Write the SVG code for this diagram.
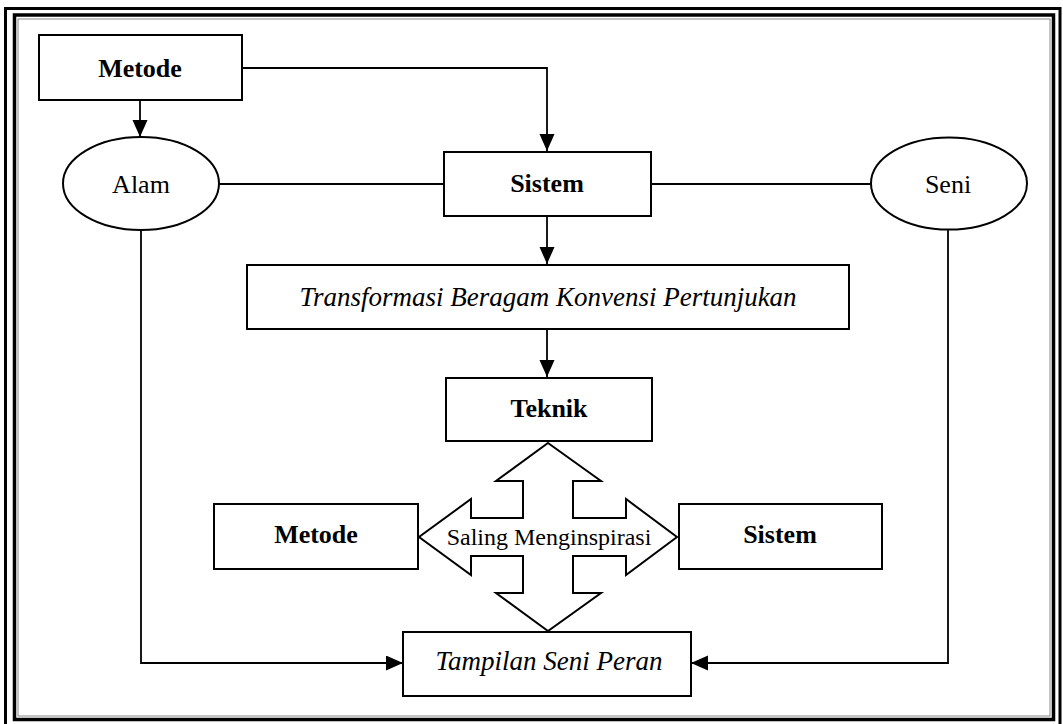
<svg xmlns="http://www.w3.org/2000/svg" width="1063" height="724" viewBox="0 0 1063 724">
  <style>
    .box { fill: #ffffff; stroke: #000000; stroke-width: 2; }
    .wire { fill: none; stroke: #000000; stroke-width: 1.8; }
    .lbl { font-family: "Liberation Serif", "Times New Roman", serif; fill: #000000; text-anchor: middle; }
    .b { font-weight: bold; font-size: 26px; }
    .r { font-size: 26px; }
    .i { font-style: italic; font-size: 27px; }
  </style>
  <defs>
    <marker id="head" markerUnits="userSpaceOnUse" markerWidth="18" markerHeight="16" refX="17" refY="7.5" orient="auto">
      <path d="M0,0 L17,7.5 L0,15 z" fill="#000000"/>
    </marker>
  </defs>

  <!-- page frame -->
  <rect width="1063" height="724" fill="#ffffff"/>
  <g id="frame" fill="none">
    <rect x="5.5" y="8.5" width="1054.5" height="722" stroke="#000000" stroke-width="3"/>
    <rect x="14.5" y="15" width="1039" height="704.5" stroke="#000000" stroke-width="3.5"/>
    <rect x="18" y="19" width="1032" height="697" stroke="#8a8a8a" stroke-width="1"/>
  </g>

  <!-- connectors -->
  <g id="connectors">
    <path class="wire" d="M242,68 H547 V151" marker-end="url(#head)"/>
    <path class="wire" d="M140,100 V137" marker-end="url(#head)"/>
    <path class="wire" d="M219,184 H444"/>
    <path class="wire" d="M651,184 H871"/>
    <path class="wire" d="M547,216 V264" marker-end="url(#head)"/>
    <path class="wire" d="M547,329 V377" marker-end="url(#head)"/>
    <path class="wire" d="M141,230 V663 H403" marker-end="url(#head)"/>
    <path class="wire" d="M948,229 V663 H691" marker-end="url(#head)"/>
  </g>

  <!-- nodes -->
  <g id="metode-top">
    <rect class="box" x="39" y="35" width="203" height="65"/>
    <text class="lbl b" x="140" y="77">Metode</text>
  </g>
  <g id="alam">
    <ellipse class="box" cx="141" cy="183.5" rx="78" ry="46.5"/>
    <text class="lbl r" x="141" y="193">Alam</text>
  </g>
  <g id="sistem-top">
    <rect class="box" x="444" y="152" width="207" height="64"/>
    <text class="lbl b" x="547" y="192">Sistem</text>
  </g>
  <g id="seni">
    <ellipse class="box" cx="949" cy="183.5" rx="78" ry="46"/>
    <text class="lbl r" x="948" y="193">Seni</text>
  </g>
  <g id="transformasi">
    <rect class="box" x="247" y="265" width="602" height="64"/>
    <text class="lbl i" x="548" y="306">Transformasi Beragam Konvensi Pertunjukan</text>
  </g>
  <g id="teknik">
    <rect class="box" x="446" y="378" width="206" height="63"/>
    <text class="lbl b" x="549" y="417">Teknik</text>
  </g>
  <g id="saling-menginspirasi">
    <polygon class="box" points="548,443 601,481 573,481 573,518 626,518 626,499 677,537 626,575 626,556 573,556 573,593 601,593 548,631 496,593 523,593 523,556 471,556 471,575 419,537 471,499 471,518 523,518 523,481 496,481"/>
    <text class="lbl" style="font-size:24px" x="549" y="545">Saling Menginspirasi</text>
  </g>
  <g id="metode-bottom">
    <rect class="box" x="214" y="504" width="204" height="65"/>
    <text class="lbl b" x="316" y="543">Metode</text>
  </g>
  <g id="sistem-bottom">
    <rect class="box" x="679" y="504" width="203" height="65"/>
    <text class="lbl b" x="780" y="543">Sistem</text>
  </g>
  <g id="tampilan">
    <rect class="box" x="403" y="632" width="288" height="64"/>
    <text class="lbl i" x="549" y="670">Tampilan Seni Peran</text>
  </g>
</svg>
